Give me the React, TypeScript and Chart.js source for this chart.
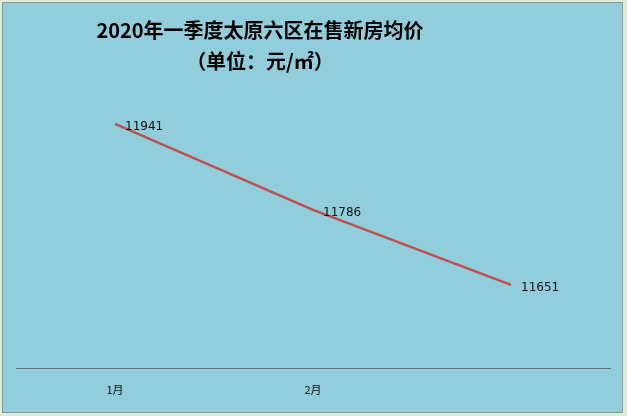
import React, { useEffect, useRef } from "react";
import { Chart, registerables } from "chart.js";

Chart.register(...registerables);

const categories = ["1月", "2月", "3月"];
const tickLabels = ["1月", "2月", ""];
const prices = [11941, 11786, 11651];
const titleLine1 = "2020年一季度太原六区在售新房均价";
const titleLine2 = "（单位：元/㎡）";

const labelPlugin = {
  id: "pointLabels",
  afterDatasetsDraw(chart: any) {
    const ctx = chart.ctx;
    const meta = chart.getDatasetMeta(0);
    ctx.save();
    ctx.font = "12px 'DejaVu Sans', sans-serif";
    ctx.fillStyle = "#111";
    ctx.textAlign = "left";
    ctx.textBaseline = "middle";
    meta.data.forEach((pt: any, i: number) => {
      ctx.fillText(String(prices[i]), pt.x + 10, pt.y + 3);
    });
    ctx.restore();
  },
};

export default function App() {
  const ref = useRef<HTMLCanvasElement>(null);
  useEffect(() => {
    document.body.style.margin = "0";
    const chart = new Chart(ref.current!, {
      type: "line",
      data: {
        labels: categories,
        datasets: [
          {
            data: prices,
            borderColor: "#C0504D",
            borderWidth: 2.5,
            pointRadius: 0,
            tension: 0,
          },
        ],
      },
      options: {
        responsive: false,
        animation: false,
        maintainAspectRatio: false,
        layout: { padding: { left: 16, right: 17, top: 91, bottom: 14 } },
        plugins: { legend: { display: false }, title: { display: false }, tooltip: { enabled: false } },
        scales: {
          x: {
            offset: true,
            grid: { display: false },
            border: { display: true, color: "#5f6f73", width: 1 },
            ticks: {
              padding: 6,
              color: "#111",
              font: { size: 11, family: "'Noto Sans CJK SC', sans-serif" },
              callback: (_v: any, i: number) => tickLabels[i],
            },
          },
          y: { display: false, min: 11500, max: 12000 },
        },
      },
      plugins: [labelPlugin],
    });
    return () => chart.destroy();
  }, []);

  return (
    <div style={{ position: "relative", width: 627, height: 416, background: "#dcedd8", overflow: "hidden" }}>
      <div
        style={{
          position: "absolute",
          left: 2,
          top: 2,
          width: 619,
          height: 409,
          background: "#92CDDC",
          border: "1px solid #8c9a9a",
        }}
      />
      <canvas ref={ref} width={627} height={416} style={{ position: "absolute", left: 0, top: 0 }} />
      <div
        style={{
          position: "absolute",
          left: 0,
          width: 520,
          top: 14,
          textAlign: "center",
          fontFamily: "'Noto Sans CJK SC', sans-serif",
          fontWeight: 700,
          fontSize: 20,
          lineHeight: "31px",
          color: "#000",
        }}
      >
        <div>{titleLine1}</div>
        <div>{titleLine2}</div>
      </div>
    </div>
  );
}
